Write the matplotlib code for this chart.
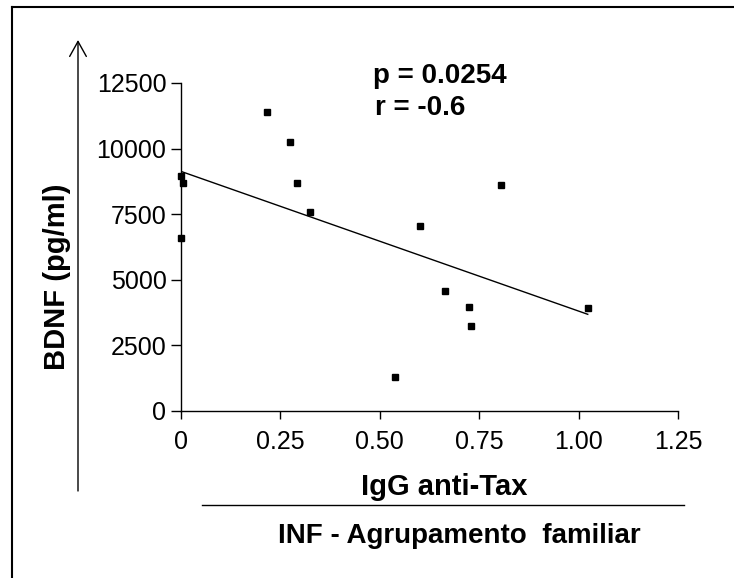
import numpy as np
import matplotlib
matplotlib.use("Agg")
import matplotlib.pyplot as plt
from matplotlib.lines import Line2D

plt.rcParams['font.family'] = ['Liberation Sans', 'DejaVu Sans']

# IgG anti-Tax (x) versus BDNF in pg/ml (y)
igg_anti_tax = [0.0, 0.005, 0.0, 0.217, 0.275, 0.292, 0.325, 0.600,
                0.804, 0.665, 0.725, 0.730, 0.539, 1.023]
bdnf = [8950, 8700, 6600, 11400, 10250, 8700, 7580, 7050,
        8610, 4570, 3960, 3240, 1300, 3920]

x_ticks = [0, 0.25, 0.50, 0.75, 1.00, 1.25]
x_ticklabels = ['0', '0.25', '0.50', '0.75', '1.00', '1.25']
y_ticks = [0, 2500, 5000, 7500, 10000, 12500]
y_ticklabels = ['0', '2500', '5000', '7500', '10000', '12500']

p_text = 'p = 0.0254'
r_text = 'r = -0.6'
y_label = 'BDNF (pg/ml)'
x_label = 'IgG anti-Tax'
group_label = 'INF - Agrupamento  familiar'

W, H = 734, 578
fig = plt.figure(figsize=(W / 100, H / 100), dpi=100)
ax = fig.add_axes([181 / W, 1 - 411 / H, 497 / W, 328 / H])

x = np.array(igg_anti_tax)
y = np.array(bdnf)

# least squares line across the observed range
slope, intercept = np.polyfit(x, y, 1)
xs = np.array([x.min(), x.max()])
ax.plot(xs, intercept + slope * xs, color='black', lw=1.0)

ax.plot(x, y, 's', color='black', ms=5, clip_on=False, zorder=3)

ax.set_xlim(0, 1.25)
ax.set_ylim(0, 12500)
ax.set_xticks(x_ticks)
ax.set_xticklabels(x_ticklabels)
ax.set_yticks(y_ticks)
ax.set_yticklabels(y_ticklabels)
ax.tick_params(axis='both', labelsize=18, width=1.0, color='black')
ax.tick_params(axis='x', length=5.5, pad=8)
ax.tick_params(axis='y', length=7, pad=3.5)
for side in ['top', 'right']:
    ax.spines[side].set_visible(False)
for side in ['left', 'bottom']:
    ax.spines[side].set_linewidth(1.0)

ax.text(0.484, 12500, p_text, fontsize=20, fontweight='bold', va='baseline')
ax.text(0.489, 11280, r_text, fontsize=20, fontweight='bold', va='baseline')

def fx(px):
    return px / W

def fy(py):
    return 1 - py / H

# axis titles
fig.text(fx(65), fy(277), y_label, fontsize=21, fontweight='bold', rotation=90,
         ha='center', va='baseline', rotation_mode='anchor')
fig.text(fx(444), fy(495), x_label, fontsize=21, fontweight='bold',
         ha='center', va='baseline')
fig.text(fx(459), fy(543), group_label, fontsize=20, fontweight='bold',
         ha='center', va='baseline')

# underline between the two x titles
fig.add_artist(Line2D([fx(202), fx(684)], [fy(505), fy(505)],
                      color='black', lw=1.0, transform=fig.transFigure))

# vertical arrow beside the y title
ax.annotate('', xy=(fx(78), fy(40)), xytext=(fx(78), fy(491)),
            xycoords='figure fraction', textcoords='figure fraction',
            arrowprops=dict(arrowstyle='->,head_length=0.9,head_width=0.5',
                            lw=1.0, color='black', shrinkA=0, shrinkB=0,
                            mutation_scale=12))

# outer frame (top and left edges)
fig.add_artist(Line2D([fx(12), fx(740)], [fy(7), fy(7)],
                      color='black', lw=1.5, transform=fig.transFigure))
fig.add_artist(Line2D([fx(12), fx(12)], [fy(7), fy(590)],
                      color='black', lw=1.5, transform=fig.transFigure))

fig.savefig('out.png', dpi=100)
